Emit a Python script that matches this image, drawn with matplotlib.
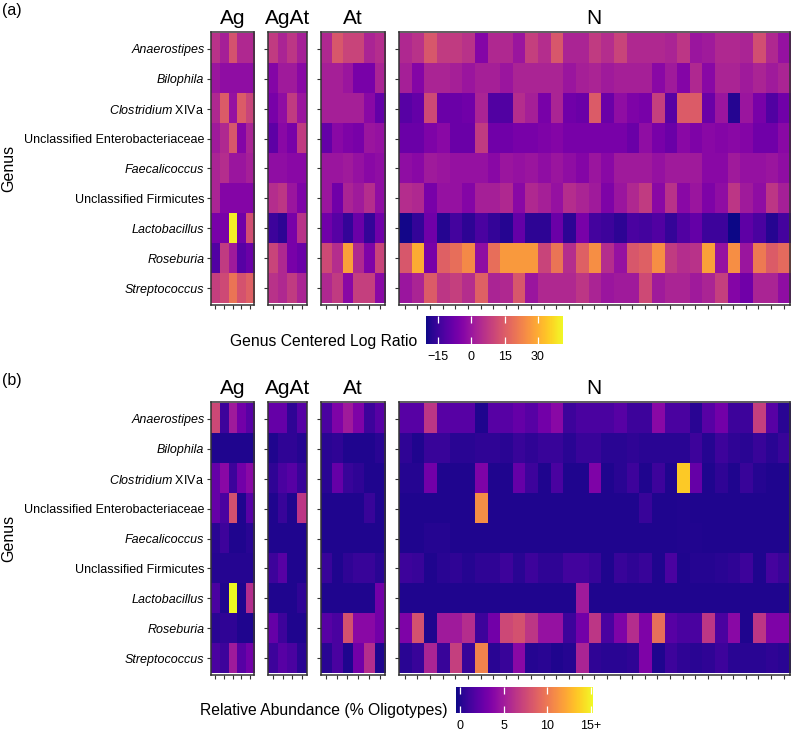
import numpy as np
import matplotlib
matplotlib.use("Agg")
import matplotlib.pyplot as plt
from matplotlib.colors import Normalize
from matplotlib.cm import ScalarMappable

plt.rcParams['font.family'] = ['Liberation Sans', 'DejaVu Sans']
plt.rcParams['mathtext.fontset'] = 'custom'
plt.rcParams['mathtext.rm'] = 'Liberation Sans'
plt.rcParams['mathtext.it'] = 'Liberation Sans:italic'

# ---------------- data ----------------
genera = ["Anaerostipes", "Bilophila", "Clostridium XIVa",
          "Unclassified Enterobacteriaceae", "Faecalicoccus",
          "Unclassified Firmicutes", "Lactobacillus", "Roseburia",
          "Streptococcus"]
groups = ["Ag", "AgAt", "At", "N"]

# (a) genus centered log ratio
clr_ag = [
    [6, 2, 13, 4, 4],
    [0, -2, -2, -2, -2],
    [4, 15, -1, 15, 10],
    [1, 4, 14, -4, 3],
    [3, 5, 0, 0, 2],
    [3, -4, -4, -4, -4],
    [-6, -6, 40, -7, 12],
    [-12, 8, 1, -11, -8],
    [9, 11, 20, 13, 16],
]
clr_agat = [
    [8, 3, 7, 2],
    [-4, 1, 1, -3],
    [-6, -2, 8, 0],
    [-10, -3, -6, 8],
    [-2, -2, -3, -3],
    [5, 7, 0, -5],
    [-15, -17, -6, 6],
    [10, 4, -6, -8],
    [6, 4, 8, 3],
]
clr_at = [
    [4, 14, 10, 10, 3, 5],
    [2, 2, 0, -6, -6, 3],
    [2, 2, 2, 2, -3, -9],
    [-9, -3, -5, -6, 0, -1],
    [0, 0, 1, -1, -3, -2],
    [0, -7, 3, 1, 5, -2],
    [-7, -11, -16, -8, -16, -7],
    [11, 5, 28, 4, -5, 10],
    [4, 8, -3, 9, 9, -3],
]
clr_n = [
    [4, 6, 14, 8, 8, 6, -4, 4, 4, 0, 9, 5, 14, 3, 3, 8, 5, 10, 4, 4, 4, 3, 7, 0, 1, 4, 4, 3, 12, 4, -1],
    [2, -4, 3, 3, 2, 0, 2, 2, 0, 3, 3, 3, 3, 0, 2, 3, 1, 2, 2, 2, -3, 1, -4, 4, -3, 3, 3, 1, 3, 1, 3],
    [-11, -9, 11, -8, -8, -7, 3, -12, -12, 5, 2, -6, 3, -7, -8, 15, -8, -2, -5, -6, 9, -11, 15, 15, -8, 0, -18, 0, -6, -12, -7],
    [-8, -8, -5, -3, -8, -8, 8, -7, -7, -6, -6, -5, -4, -6, -6, -6, -6, -6, -8, -2, -6, -8, -3, -5, -3, -4, -3, -4, -7, -7, -3],
    [-2, -3, 1, 0, -1, -1, -1, -3, 0, -1, 0, -2, 0, -2, -4, 0, -3, 1, 1, 1, -1, 1, 1, 1, -3, -3, 1, -1, -1, 0, -2],
    [5, 4, -6, -1, -1, -4, 2, 2, 4, -3, 4, 2, -1, 5, 3, 1, -5, 0, 4, 8, -3, 6, -3, 0, -5, -2, 7, 1, -2, 7, 2],
    [-20, -16, -7, -18, -14, -17, -13, -16, -18, -9, -17, -17, -8, -17, -6, -14, -15, -17, -13, -14, -12, -16, -12, -9, -15, -15, -21, -10, -13, -18, -14],
    [14, 30, -6, 16, 19, 24, -2, 19, 27, 27, 27, 10, 20, 5, 16, 25, 5, -1, 14, 16, 25, 8, 5, 6, 28, -1, 25, 0, 21, 15, 18],
    [0, 3, 15, 7, 9, 5, 16, 3, 4, 14, 0, 4, 4, 4, 7, 3, 0, 1, 1, 11, 1, 3, 3, 1, 3, 9, -4, -7, 3, 3, -2],
]

# (b) relative abundance (% oligotypes)
rel_ag = [
    [7.5, 1, 5, 3, 2],
    [0, 0, 0, 0, 0],
    [2.5, 4, 1, 3, 4],
    [2.5, 1.5, 8, 0, 2],
    [0.3, 1, 0, 0, 0.3],
    [0.2, 0.2, 0.2, 0.2, 0.2],
    [1.5, 0, 16, 0, 6],
    [0.3, 0.5, 0.5, 0, 0],
    [1.5, 1, 5, 2, 3],
]
rel_agat = [
    [2.5, 2.5, 0.5, 2],
    [0, 0.5, 0.5, 0.2],
    [0.5, 1.5, 2, 0.8],
    [0, 0.8, 0, 6.5],
    [0, 0, 0, 0],
    [1, 2, 0, 0],
    [0, 0, 0, 0.5],
    [2.5, 1, 0, 0],
    [1, 2, 1.5, 0.3],
]
rel_at = [
    [1.5, 3.5, 5, 3.5, 1, 2],
    [0.3, 0.5, 0, 0, 0, 0.3],
    [0.3, 2.5, 0.8, 0.5, 0, 0],
    [0, 0, 0, 0, 0.8, 0],
    [0, 0, 0, 0, 0, 0],
    [0.8, 0, 0.5, 0.8, 0.8, 0.3],
    [0, 0, 0, 0, 0, 3],
    [2, 1.5, 8, 4, 4, 3],
    [0.3, 1.5, 0, 3, 6, 0],
]
rel_n = [
    [2, 2, 6.5, 2, 2, 2, 0, 2, 2, 2.5, 2, 3, 4, 1, 1.5, 1.5, 1.5, 2, 1, 1, 4, 1.5, 1.5, 0.3, 2, 3, 1, 1, 7, 2, 0.3],
    [0.5, 0, 0.8, 0.8, 0.3, 0.3, 0.5, 0.5, 0.3, 0.8, 0.5, 0.8, 0.8, 0.3, 0.8, 0.8, 0.3, 0.3, 0.5, 0.3, 0.3, 0.3, 0.3, 1.0, 0.2, 1.0, 0.5, 0.3, 0.8, 0.3, 0.8],
    [0.2, 0.2, 3, 0, 0, 0, 3.5, 0, 0, 2.5, 1, 0, 1.5, 0, 0, 3.5, 0, 0.3, 1, 0, 1, 0, 13.5, 2.5, 0, 0.5, 0, 0.8, 0.2, 0, 0],
    [0, 0, 0, 0, 0, 0, 11, 0, 0, 0, 0, 0, 0, 0, 0, 0, 0, 0, 0, 0.8, 0, 0, 0.1, 0, 0, 0, 0, 0, 0, 0, 0],
    [0, 0, 0.2, 0.2, 0, 0, 0, 0, 0, 0, 0, 0, 0, 0, 0, 0, 0, 0, 0, 0, 0, 0, 0.1, 0.1, 0, 0, 0, 0, 0, 0, 0],
    [1, 0.8, 0, 0.3, 0.5, 0.2, 0.5, 0.5, 1, 0.3, 1, 0.5, 0.5, 1.2, 1.2, 0.8, 0, 0.8, 0.5, 0.8, 0, 1.5, 0, 0.2, 0.2, 0.3, 0.5, 1, 0, 1.3, 0.8],
    [0, 0, 0, 0, 0, 0, 0, 0, 0, 0, 0, 0, 0, 0, 5, 0, 0, 0, 0, 0, 0, 0, 0, 0, 0, 0, 0, 0, 0, 0, 0],
    [3.5, 8, 0, 5, 5, 6, 1, 3, 7.5, 8, 6.5, 4.5, 4.5, 1, 3, 6.5, 1.5, 3.5, 6, 3.5, 9.5, 2, 1.5, 1.5, 6.5, 1.5, 4, 0, 6.5, 3.5, 3.5],
    [0.3, 0.8, 5.5, 0.8, 7, 0.8, 10.5, 0.3, 0.8, 4, 0.2, 0.3, 0, 0.2, 5.5, 0.5, 0.3, 0.3, 0.5, 3.5, 0, 1, 0.5, 0.3, 0.5, 1, 0.3, 0.3, 0.3, 0.5, 0.3],
]

clr_ticks = [-15, 0, 15, 30]
clr_ticklabels = ["\u221215", "0", "15", "30"]
rel_ticks = [0, 5, 10, 15]
rel_ticklabels = ["0", "5", "10", "15+"]

# ---------------- layout ----------------
W, H = 792, 734
fig = plt.figure(figsize=(W / 100, H / 100), dpi=100)

def ax_px(x0, y0, x1, y1):
    return fig.add_axes([x0 / W, 1 - y1 / H, (x1 - x0) / W, (y1 - y0) / H])

def txt(x, y, s, **kw):
    return fig.text(x / W, 1 - y / H, s, **kw)

xext = [(211, 254.3), (268.3, 306.8), (320.7, 385), (398.5, 790)]
EDGE = '#333333'
cmap = plt.get_cmap('plasma')

def ylabel_text(g):
    if g == "Clostridium XIVa":
        return r"$\mathit{Clostridium}$ XIVa"
    return g

def draw_panel(ytop, ybot, datasets, norm, tag):
    pad = 0.055
    for i, (g, (x0, x1), data) in enumerate(zip(groups, xext, datasets)):
        ax = ax_px(x0, ytop, x1, ybot)
        arr = np.array(data, dtype=float)
        n = arr.shape[1]
        ax.imshow(arr, cmap=cmap, norm=norm, aspect='auto',
                  interpolation='nearest', extent=(0.5, n + 0.5, 9.5, 0.5))
        ax.set_xlim(0.5, n + 0.5)
        ax.set_ylim(9.5 + pad, 0.5 - pad)
        ax.set_xticks(np.arange(1, n + 1))
        ax.set_xticklabels([])
        ax.set_yticks(np.arange(1, 10))
        if i == 0:
            ax.set_yticklabels([ylabel_text(g_) for g_ in genera], fontsize=9)
            for lab, g_ in zip(ax.get_yticklabels(), genera):
                if g_.startswith("Unclassified") or g_.startswith("Clostridium"):
                    lab.set_fontstyle('normal')
                else:
                    lab.set_fontstyle('italic')
        else:
            ax.set_yticklabels([])
        for s in ax.spines.values():
            s.set_color(EDGE)
            s.set_linewidth(1.1)
        ax.tick_params(length=3.2, width=0.8, color=EDGE, pad=1.5)
        txt((x0 + x1) / 2, ytop - 8.5, g, ha='center', va='baseline', fontsize=15)
    txt(2, ytop - 17, tag, ha='left', va='baseline', fontsize=11.5)
    txt(8.5, (ytop + ybot) / 2, "Genus", rotation=90, ha='center', va='center', fontsize=11.5)

def draw_cbar(x0, y0, x1, y1, norm, ticks, labels, title):
    cax = ax_px(x0, y0, x1, y1)
    cb = fig.colorbar(ScalarMappable(norm=norm, cmap=cmap), cax=cax,
                      orientation='horizontal', ticks=ticks)
    cb.outline.set_visible(False)
    cb.set_ticklabels(labels)
    cax.tick_params(direction='in', color='white', labelcolor='black',
                    length=5, width=0.9, top=True, bottom=True,
                    labeltop=False, labelbottom=True, labelsize=9, pad=5)
    txt(x0 - 9, y1 + 1.5, title, ha='right', va='baseline', fontsize=11.3)

norm_a = Normalize(vmin=-20.6, vmax=41.6)
norm_b = Normalize(vmin=-0.45, vmax=15.25)

draw_panel(32, 305, [clr_ag, clr_agat, clr_at, clr_n], norm_a, "(a)")
draw_cbar(426, 316, 563.3, 344, norm_a, clr_ticks, clr_ticklabels, "Genus Centered Log Ratio")

draw_panel(402, 675, [rel_ag, rel_agat, rel_at, rel_n], norm_b, "(b)")
draw_cbar(456, 686.7, 593, 713, norm_b, rel_ticks, rel_ticklabels, "Relative Abundance (% Oligotypes)")

fig.savefig("out.png", dpi=100, facecolor='white')
